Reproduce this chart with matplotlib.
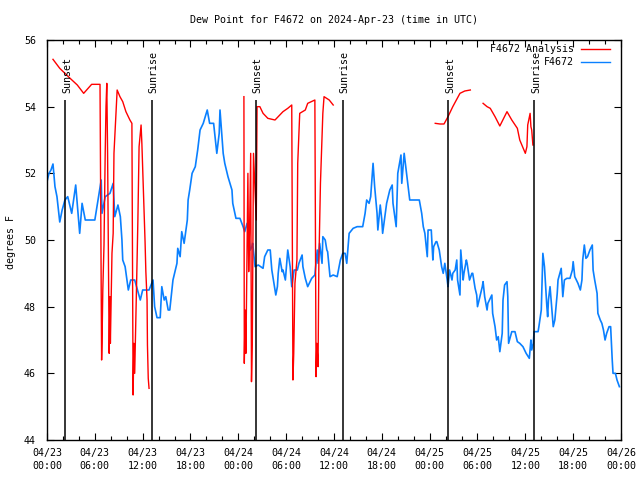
#!/usr/bin/env python3
"""Dew point for F4672, station obs vs analysis, with sunrise/sunset markers."""

import numpy as np
import pandas as pd
import matplotlib
matplotlib.use("Agg")
import matplotlib.pyplot as plt
import matplotlib.dates as mdates

plt.rcParams['font.family'] = ['DejaVu Sans Mono']
plt.rcParams['font.size'] = 7.2

START = pd.Timestamp("2024-04-23 00:00")

# observed dew point (hours after 04/23 00:00 UTC, deg F)
obs_hours = [
    0.0, 0.25, 0.5, 0.75, 1.0, 1.25, 1.6, 1.9, 2.25, 2.6, 3.1, 3.6, 4.1, 4.4, 4.8,
    5.4, 6.0, 6.4, 6.8, 6.9, 7.3, 7.9, 8.3, 8.5, 8.9, 9.2, 9.4, 9.5, 9.8, 10.2,
    10.5, 11.0, 11.7, 12.0, 12.8, 13.3, 13.5, 13.8, 14.2, 14.4, 14.7, 14.9, 15.2,
    15.4, 15.8, 16.3, 16.4, 16.7, 16.9, 17.2, 17.6, 17.7, 17.9, 18.2, 18.6, 18.9,
    19.2, 19.6, 20.1, 20.4, 20.9, 21.3, 21.6, 21.7, 22.1, 22.3, 22.7, 23.2, 23.3,
    23.7, 24.2, 24.6, 24.8, 25.1, 25.3, 25.5, 25.7, 25.8, 26.1, 26.5, 26.8, 27.1,
    27.3, 27.7, 28.0, 28.2, 28.4, 28.7, 28.9, 29.0, 29.2, 29.5, 29.6, 29.9, 30.2,
    30.5, 30.7, 31.0, 31.4, 31.6, 32.0, 32.1, 32.4, 32.7, 33.2, 33.6, 33.9, 34.0,
    34.2, 34.5, 34.6, 34.9, 35.1, 35.2, 35.5, 35.9, 36.4, 36.8, 37.1, 37.4, 37.6,
    37.9, 38.4, 38.9, 39.6, 39.9, 40.1, 40.4, 40.6, 40.9, 41.1, 41.4, 41.5, 41.8,
    42.0, 42.1, 42.6, 43.0, 43.3, 43.4, 43.8, 44.0, 44.4, 44.5, 44.8, 45.2, 45.5,
    46.7, 47.0, 47.2, 47.4, 47.7, 47.8, 48.2, 48.4, 48.5, 48.8, 48.9, 49.2, 49.5,
    49.7, 49.9, 50.2, 50.3, 50.5, 50.8, 50.9, 51.2, 51.4, 51.5, 51.8, 51.9, 52.2,
    52.3, 52.6, 52.7, 53.0, 53.3, 53.4, 53.7, 53.9, 54.0, 54.2, 54.6, 54.7, 54.9,
    55.2, 55.3, 55.6, 55.8, 55.9, 56.2, 56.4, 56.6, 56.8, 57.1, 57.2, 57.4, 57.7,
    57.8, 57.9, 58.3, 58.7, 59.0, 59.3, 59.7, 60.1, 60.5, 60.7, 60.8, 61.0, 61.1,
    61.6, 61.7, 62.0, 62.2, 62.4, 62.5, 62.7, 62.8, 62.9, 63.1, 63.3, 63.5, 63.7,
    64.0, 64.1, 64.5, 64.7, 64.9, 65.2, 65.6, 65.9, 66.0, 66.2, 66.6, 66.9, 67.1,
    67.2, 67.4, 67.6, 67.8, 68.1, 68.4, 68.5, 68.7, 69.0, 69.1, 69.4, 69.6, 69.8,
    70.0, 70.2, 70.5, 70.7, 70.9, 71.0, 71.3, 71.5, 71.8,
]
obs_dewpt = [
    51.75, 52.0, 52.1, 52.28, 51.6, 51.3, 50.54, 50.9, 51.2, 51.3, 50.8, 51.65, 50.2, 51.1, 50.6,
    50.6, 50.6, 51.2, 51.8, 50.8, 51.3, 51.4, 51.7, 50.7, 51.05, 50.7, 50.0, 49.4, 49.2, 48.5,
    48.8, 48.8, 48.2, 48.5, 48.5, 48.8, 48.0, 47.67, 47.67, 48.6, 48.2, 48.3, 47.9,
    47.9, 48.8, 49.3, 49.75, 49.5, 50.25, 49.9, 50.6, 51.2, 51.5, 52.0, 52.2, 52.7,
    53.3, 53.5, 53.9, 53.5, 53.5, 52.6, 53.2, 53.9, 52.6, 52.3, 51.9, 51.5, 51.1,
    50.65, 50.65, 50.4, 50.25, 50.5, 50.2, 49.7, 49.8, 49.9, 49.2, 49.25, 49.2, 49.15,
    49.5, 49.7, 49.7, 49.1, 48.8, 48.35, 48.6, 49.0, 49.45, 49.05, 49.1, 48.8, 49.7,
    49.2, 48.6, 49.1, 49.1, 49.3, 49.55, 49.2, 48.85, 48.6, 48.85, 48.95, 49.7, 49.3,
    49.9, 49.3, 50.1, 50.0, 49.7, 49.65, 48.9, 48.95, 48.9, 49.4, 49.6, 49.6, 49.3,
    50.2, 50.35, 50.4, 50.4, 50.8, 51.2, 51.1, 51.3, 52.3, 51.6, 50.8, 50.3, 51.05,
    50.6, 50.2, 51.1, 51.5, 51.65, 51.1, 50.4, 52.0, 52.55, 51.7, 52.6, 51.8, 51.2,
    51.2, 50.8, 50.4, 50.2, 49.5, 50.3, 50.3, 49.4, 49.8, 49.95, 49.95, 49.7, 49.2,
    49.0, 49.3, 48.8, 48.6, 49.1, 48.8, 49.0, 49.1, 49.4, 48.8, 48.35, 49.7, 48.8,
    49.0, 49.4, 49.3, 48.8, 49.0, 49.0, 48.55, 48.35, 48.0, 48.2, 48.6, 48.75, 48.3,
    47.9, 48.1, 48.25, 48.35, 47.8, 47.4, 47.0, 47.1, 46.65, 47.2, 48.2, 48.65, 48.75,
    48.3, 46.9, 47.25, 47.25, 46.95, 46.9, 46.8, 46.6, 46.45, 47.0, 46.7, 46.9, 47.25,
    47.25, 47.4, 47.9, 49.6, 49.2, 48.8, 48.0, 47.7, 48.2, 48.6, 48.0, 47.4, 47.6,
    48.4, 48.8, 49.15, 48.3, 48.8, 48.85, 48.85, 49.1, 49.35, 48.9, 48.7, 48.5, 48.8,
    49.4, 49.85, 49.45, 49.5, 49.7, 49.85, 49.1, 48.8, 48.4, 47.8, 47.6, 47.5, 47.3,
    47.0, 47.2, 47.4, 47.4, 46.4, 46.0, 46.0, 45.8, 45.6,
]

# analysis dew point, NaN marks the gaps between runs
ana_hours = [
    0.75, 1.6, 2.9, 3.8, 4.6, 5.6, 6.65, 6.7, 6.85, 6.9, 7.0, 7.15, 7.3, 7.4, 7.5,
    7.6, 7.8, 7.9, 7.95, 8.15, 8.3, 8.4, 8.8, 9.15, 9.5, 9.9, 10.4, 10.65, 10.8,
    10.9, 11.0, 11.3, 11.4, 11.55, 11.8, 11.9, 12.3, 12.4, 12.55, 12.6, 12.7, 12.8,
    18.0,
    24.7, 24.75, 24.85, 24.95, 25.2, 25.3, 25.4, 25.55, 25.65, 25.75, 25.9, 26.25,
    26.35, 26.7, 27.1, 27.7, 28.6, 29.2, 29.6, 30.2, 30.7, 30.85, 30.95, 31.1,
    31.35, 31.45, 31.7, 32.4, 32.7, 33.6, 33.75, 33.85, 34.0, 34.1, 34.3, 34.6,
    34.75, 35.4, 35.9,
    42.0,
    48.7, 49.3, 49.8, 50.3, 50.9, 51.8, 52.4, 53.1,
    53.9,
    54.7, 55.2, 55.6, 56.2, 56.8, 57.7, 58.3, 59.0, 59.3, 60.0, 60.2, 60.3, 60.6,
    60.7, 60.8, 60.95,
]
ana_dewpt = [
    55.42, 55.15, 54.85, 54.65, 54.4, 54.67, 54.67, 52.6, 46.4, 46.9, 48.5, 49.85, 52.6, 54.0, 54.7,
    52.6, 46.6, 48.3, 46.9, 49.6, 50.2, 52.6, 54.5, 54.3, 54.15, 53.85, 53.6, 53.5, 45.35,
    46.9, 46.0, 49.4, 50.6, 52.8, 53.45, 52.9, 49.95, 49.05, 48.2, 46.85, 45.85, 45.55,
    np.nan,
    54.3, 46.3, 47.9, 46.6, 52.0, 49.05, 50.2, 52.6, 45.75, 46.9, 52.6, 50.6,
    54.0, 54.0, 53.8, 53.65, 53.6, 53.75, 53.85, 53.95, 54.05, 45.8, 46.6, 48.7,
    49.4, 52.3, 53.8, 53.9, 54.1, 54.2, 45.9, 46.9, 46.2, 49.3, 51.7, 53.8,
    54.3, 54.2, 54.05,
    np.nan,
    53.5, 53.48, 53.48, 53.7, 54.0, 54.4, 54.47, 54.5,
    np.nan,
    54.1, 54.0, 53.95, 53.7, 53.42, 53.85, 53.6, 53.35, 53.0, 52.6, 52.8, 53.45, 53.8,
    53.4, 53.3, 52.85,
]

# sun events (hours after start)
sun_hours = [2.25, 13.15, 26.2, 37.1, 50.3, 61.1]
sun_labels = ["Sunset", "Sunrise", "Sunset", "Sunrise", "Sunset", "Sunrise"]

BLUE = '#0a80ff'
RED = '#ff0000'


def to_time(hours):
    return START + pd.to_timedelta(np.asarray(hours, dtype=float), unit='h')


fig = plt.figure(figsize=(6.4, 4.8), dpi=100)
ax = fig.add_axes([47 / 640, 40 / 480, 574 / 640, 400 / 480])

ax.plot(to_time(obs_hours), obs_dewpt, color=BLUE, lw=1.2)
ax.plot(to_time(ana_hours), ana_dewpt, color=RED, lw=1.0)

# sunrise / sunset markers
sun_t = to_time(sun_hours)
ax.vlines(sun_t, 44, 54.2, color='black', lw=1.1)
for t, lab in zip(sun_t, sun_labels):
    ax.text(t + pd.Timedelta(minutes=15), 54.42, lab, rotation=90,
            ha='center', va='bottom')

ax.set_xlim(START, START + pd.Timedelta(hours=72))
ax.set_ylim(44, 56)
ax.set_yticks(np.arange(44, 57, 2))
ax.xaxis.set_major_locator(mdates.HourLocator(byhour=[0, 6, 12, 18]))
ax.xaxis.set_minor_locator(mdates.HourLocator(byhour=range(0, 24, 2)))
ax.xaxis.set_major_formatter(mdates.DateFormatter('%m/%d\n%H:%M'))
ax.tick_params(axis='both', which='major', direction='in', length=5, width=0.8,
               top=True, right=True, color='black')
ax.tick_params(axis='x', which='minor', direction='in', length=3, width=0.8,
               top=True)
ax.tick_params(axis='x', which='major', pad=6)
ax.tick_params(axis='y', which='major', pad=8)
for lbl in ax.get_xticklabels():
    lbl.set_linespacing(1.35)
for s in ax.spines.values():
    s.set_linewidth(1.0)

# gnuplot-style key, text right-justified with sample on the right
key = [("F4672 Analysis", RED), ("F4672", BLUE)]
for i, (name, col) in enumerate(key):
    yk = 0.977 - i * 0.0325
    ax.text(0.918, yk, name, transform=ax.transAxes, ha='right', va='center')
    ax.plot([0.930, 0.981], [yk, yk], transform=ax.transAxes, color=col,
            lw=1.0, clip_on=False)

fig.text(334 / 640, 1 - 20 / 480, "Dew Point for F4672 on 2024-Apr-23 (time in UTC)",
         ha='center', va='center')
fig.text(11 / 640, 1 - 242 / 480, "degrees F", rotation=90, ha='center', va='center')

fig.savefig('out.png', dpi=100)
